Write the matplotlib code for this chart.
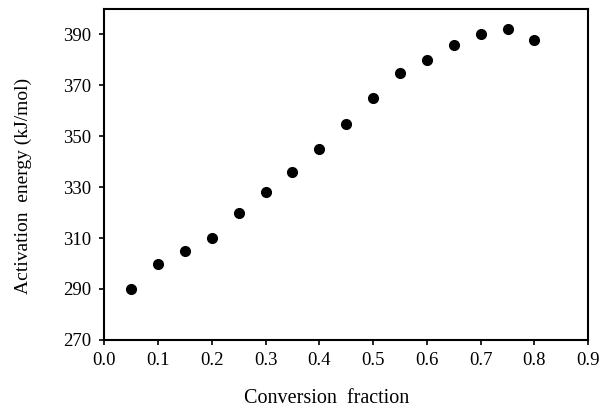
import matplotlib.pyplot as plt

# values
conversion = [0.05, 0.10, 0.15, 0.20, 0.25, 0.30, 0.35, 0.40,
              0.45, 0.50, 0.55, 0.60, 0.65, 0.70, 0.75, 0.80]
energy = [290, 300, 305, 310, 320, 328, 336, 345,
          355, 365, 375, 380, 386, 390, 392, 388]

x_ticks = [0.0, 0.1, 0.2, 0.3, 0.4, 0.5, 0.6, 0.7, 0.8, 0.9]
y_ticks = [270, 290, 310, 330, 350, 370, 390]

plt.rcParams['font.family'] = ['Liberation Serif', 'DejaVu Serif']

fig = plt.figure(figsize=(6.09, 4.09), dpi=100)
ax = fig.add_axes([0.171, 0.169, 0.795, 0.809])

ax.plot(conversion, energy, 'o', color='black', markersize=7)

ax.set_xlim(0, 0.9)
ax.set_ylim(270, 400)
ax.set_xticks(x_ticks)
ax.set_xticklabels([f'{t:.1f}' for t in x_ticks])
ax.set_yticks(y_ticks)

ax.tick_params(direction='out', length=3.6, width=1.2, labelsize=13.5)
ax.tick_params(axis='y', pad=6)
ax.tick_params(axis='x', pad=5)
for s in ax.spines.values():
    s.set_linewidth(1.5)

ax.set_xlabel('Conversion  fraction', fontsize=14.5)
ax.set_ylabel('Activation  energy (kJ/mol)', fontsize=14)
ax.xaxis.set_label_coords(0.46, -0.148)
ax.yaxis.set_label_coords(-0.15, 0.465)

fig.savefig('out.png', dpi=100)
